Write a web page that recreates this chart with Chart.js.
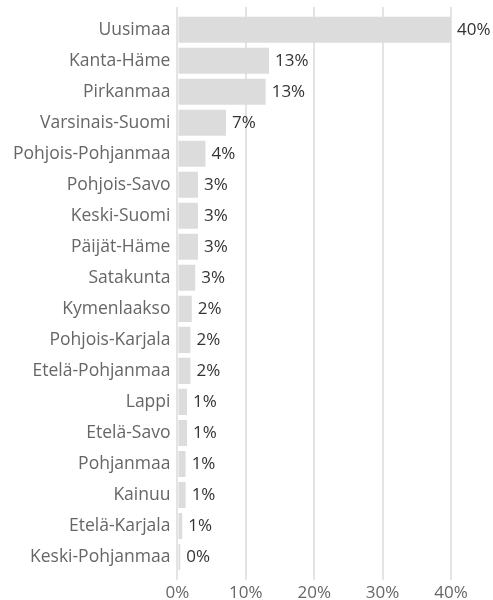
<!DOCTYPE html>
<html>
<head>
<meta charset="utf-8">
<script src="https://cdn.jsdelivr.net/npm/chart.js@4"></script>
<style>
  html, body { margin: 0; padding: 0; background: #fff; }
  #wrap { width: 493px; height: 600px; }
</style>
</head>
<body>
<div id="wrap"><canvas id="chart"></canvas></div>
<script>
// regions, share of total (%)
const regions = [
    "Uusimaa", "Kanta-Häme", "Pirkanmaa", "Varsinais-Suomi", "Pohjois-Pohjanmaa",
    "Pohjois-Savo", "Keski-Suomi", "Päijät-Häme", "Satakunta", "Kymenlaakso",
    "Pohjois-Karjala", "Etelä-Pohjanmaa", "Lappi", "Etelä-Savo", "Pohjanmaa",
    "Kainuu", "Etelä-Karjala", "Keski-Pohjanmaa"
];
const shares = [40, 13.4, 12.9, 7.1, 4.1, 3.0, 3.0, 3.0, 2.6, 2.1, 1.9, 1.9, 1.4, 1.4, 1.2, 1.2, 0.7, 0.4];
const xTicks = [0, 10, 20, 30, 40];

const font = "'Open Sans', sans-serif";

// value labels at the end of each bar
const barLabels = {
    id: "barLabels",
    afterDatasetsDraw(chart) {
        const ctx = chart.ctx;
        const meta = chart.getDatasetMeta(0);
        ctx.save();
        ctx.font = "17px " + font;
        ctx.fillStyle = "#333";
        ctx.textAlign = "left";
        ctx.textBaseline = "middle";
        meta.data.forEach((bar, i) => {
            ctx.fillText(Math.round(shares[i]) + "%", bar.x + 6, bar.y);
        });
        ctx.restore();
    }
};

new Chart(document.getElementById("chart"), {
    type: "bar",
    data: {
        datasets: [{
            data: shares.map((v, i) => ({ x: v, y: i })),
            backgroundColor: "#dcdcdc",
            barPercentage: 0.84,
            categoryPercentage: 1
        }]
    },
    options: {
        indexAxis: "y",
        responsive: true,
        maintainAspectRatio: false,
        animation: false,
        layout: { padding: { top: 7, right: 42, left: 6, bottom: -6 } },
        plugins: { legend: { display: false }, tooltip: { enabled: false } },
        scales: {
            x: {
                min: 0,
                max: 40,
                afterBuildTicks: s => { s.ticks = xTicks.map(v => ({ value: v })); },
                grid: { color: "#e4e4e4", lineWidth: 2, drawTicks: false },
                border: { display: false },
                ticks: {
                    padding: 3,
                    color: "#666",
                    font: { family: font, size: 17 },
                    callback: v => v + "%"
                }
            },
            y: {
                type: "linear",
                reverse: true,
                offset: false,
                min: -0.73,
                max: regions.length - 0.27,
                afterBuildTicks: s => { s.ticks = regions.map((_, i) => ({ value: i })); },
                grid: { display: false, drawTicks: false },
                border: { display: false },
                ticks: {
                    padding: 7,
                    color: "#666",
                    autoSkip: false,
                    font: { family: font, size: 17.5, lineHeight: 0.01 },
                    callback: v => regions[v]
                }
            }
        }
    },
    plugins: [barLabels]
});
</script>
</body>
</html>
